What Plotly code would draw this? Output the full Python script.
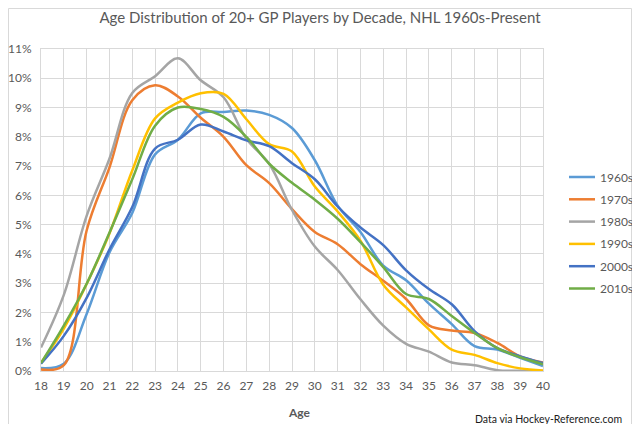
import plotly.graph_objects as go

ages = list(range(18, 41))

decades = ["1960s", "1970s", "1980s", "1990s", "2000s", "2010s"]

pct_1960s = [0.10, 0.25, 1.95, 4.05, 5.40, 7.40, 7.90, 8.80, 8.85, 8.90, 8.75, 8.30,
             7.20, 5.65, 4.75, 3.60, 3.10, 2.30, 1.60, 0.85, 0.73, 0.45, 0.17]
pct_1970s = [0.05, 0.20, 4.80, 6.95, 9.25, 9.76, 9.38, 8.65, 8.00, 7.03, 6.42, 5.53,
             4.75, 4.33, 3.65, 3.08, 2.46, 1.56, 1.38, 1.30, 0.96, 0.50, 0.29]
pct_1980s = [0.80, 2.60, 5.30, 7.25, 9.50, 10.07, 10.68, 9.93, 9.35, 7.93, 7.08, 5.50,
             4.25, 3.45, 2.45, 1.55, 0.93, 0.66, 0.29, 0.20, 0.03, 0.01, 0.00]
pct_1990s = [0.28, 1.45, 2.97, 4.70, 6.85, 8.63, 9.17, 9.49, 9.47, 8.60, 7.75, 7.50,
             6.30, 5.45, 4.45, 2.95, 2.17, 1.42, 0.73, 0.55, 0.27, 0.09, 0.02]
pct_2000s = [0.25, 1.20, 2.50, 4.15, 5.60, 7.60, 7.90, 8.42, 8.18, 7.88, 7.68, 7.10,
             6.55, 5.62, 4.90, 4.30, 3.44, 2.80, 2.28, 1.36, 0.78, 0.50, 0.27]
pct_2010s = [0.27, 1.55, 2.98, 4.72, 6.55, 8.38, 9.00, 8.95, 8.68, 8.00, 7.08, 6.43,
             5.85, 5.20, 4.40, 3.55, 2.63, 2.46, 1.88, 1.30, 0.78, 0.47, 0.23]

series = [pct_1960s, pct_1970s, pct_1980s, pct_1990s, pct_2000s, pct_2010s]
colors = ["#5B9BD5", "#ED7D31", "#A5A5A5", "#FFC000", "#4472C4", "#70AD47"]

FONT = "Lato"
GRID = "#D9D9D9"
TXT = "#595959"

# Page body has an 8px margin; the figure is sized to fit the 640x432 window
# exactly, so figure pixel = target pixel - 8.
OFF = 8
W, H = 640 - 2 * OFF, 432 - 2 * OFF
L, R, T, B = 41 - OFF, W - (543 - OFF), 49 - OFF, H - (371 - OFF)
PW, PH = W - L - R, H - T - B


def px_x(p):
    return (p - OFF - L) / PW


def px_y(p):
    return (H - B - (p - OFF)) / PH


fig = go.Figure()
for name, vals, col in zip(decades, series, colors):
    fig.add_trace(go.Scatter(
        x=ages, y=vals, name=name, mode="lines",
        line=dict(color=col, width=2.5, shape="spline", smoothing=1.0),
    ))

fig.update_layout(
    width=W, height=H,
    margin=dict(l=L, r=R, t=T, b=B, autoexpand=False),
    paper_bgcolor="white", plot_bgcolor="white",
    font=dict(family=FONT, size=12, color=TXT),
    title=dict(text="Age Distribution of 20+ GP Players by Decade, NHL 1960s-Present",
               x=px_x(320), xanchor="center", xref="paper",
               y=1 - (18 - OFF) / H, yanchor="middle",
               font=dict(family=FONT, size=15, color=TXT)),
    showlegend=False,
    xaxis=dict(range=[18, 40], dtick=1, tick0=18, showgrid=True, gridcolor=GRID,
               gridwidth=1, showline=True, linecolor=GRID, mirror=True,
               zeroline=False, ticks="", ticklabelstandoff=4, automargin=False,
               tickfont=dict(size=12, color=TXT)),
    yaxis=dict(range=[0, 11], dtick=1, tick0=0, ticksuffix="%", showgrid=True,
               gridcolor=GRID, gridwidth=1, showline=True, linecolor=GRID,
               mirror=True, zeroline=False, ticks="", ticklabelstandoff=6,
               automargin=False, tickfont=dict(size=12, color=TXT)),
)

# Legend (right side), one row per decade
for i, (name, col) in enumerate(zip(decades, colors)):
    yc = 177 + 22.3 * i
    fig.add_shape(type="line", xref="paper", yref="paper",
                  x0=px_x(569), x1=px_x(595), y0=px_y(yc), y1=px_y(yc),
                  line=dict(color=col, width=2.5))
    fig.add_annotation(text=name, xref="paper", yref="paper",
                       x=px_x(598), y=px_y(yc), xanchor="left", yanchor="middle",
                       showarrow=False, font=dict(family=FONT, size=12, color=TXT))

fig.add_annotation(text="<b>Age</b>", xref="paper", yref="paper",
                   x=px_x(299), y=px_y(412),
                   xanchor="center", yanchor="middle", showarrow=False,
                   font=dict(family=FONT, size=12, color=TXT))
fig.add_annotation(text="Data via Hockey-Reference.com", xref="paper", yref="paper",
                   x=px_x(624), y=px_y(418.5),
                   xanchor="right", yanchor="middle", showarrow=False,
                   font=dict(family=FONT, size=10.5, color="#1a1a1a"))

fig.add_shape(type="rect", xref="paper", yref="paper",
              x0=(0.5 - L) / PW, x1=(W - 0.5 - L) / PW,
              y0=(B - H + 0.5) / PH, y1=(H - B - 0.5) / PH,
              line=dict(color=GRID, width=1), fillcolor="rgba(0,0,0,0)", layer="below")

fig.write_html("out.html")
